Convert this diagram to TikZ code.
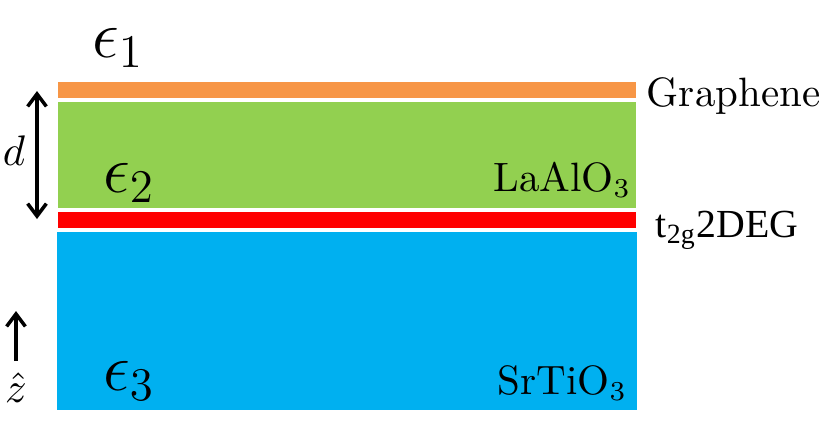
\documentclass[tikz,border=0pt]{standalone}
\usepackage{amsmath}
\usepackage{fontspec}
\newfontfamily\timesfont{Liberation Serif}[Ligatures=TeX]
\usetikzlibrary{arrows.meta, positioning}
\definecolor{lgraphene}{HTML}{F79646}
\definecolor{llao}{HTML}{92D050}
\definecolor{lgas}{HTML}{FF0000}
\definecolor{lsto}{HTML}{00B0F0}
\tikzset{
  epslabel/.style={font=\fontsize{16.5}{20}\selectfont, inner sep=0pt},
  namelabel/.style={font=\fontsize{10.5}{12}\selectfont, inner sep=0pt},
  gaslabel/.style={font=\timesfont\fontsize{10.2}{12}\selectfont, inner sep=0pt},
  axlabel/.style={font=\fontsize{10.5}{12}\selectfont, inner sep=0pt},
  barr/.style={{Straight Barb[length=3.2pt, width=4.8pt]}-{Straight Barb[length=3.2pt, width=4.8pt]}, line width=0.9pt},
  uarr/.style={-{Straight Barb[length=3.2pt, width=4.8pt]}, line width=0.9pt},
}

\begin{document}
\begin{tikzpicture}[x=0.009cm, y=-0.009cm]
  \useasboundingbox (0,0) rectangle (830,421);

  % Layers
  \fill[lgraphene] (58,82) rectangle (636,98);
  \fill[llao] (58,102) rectangle (636,208);
  \fill[lgas] (58,212) rectangle (636,228);
  \fill[lsto] (57,232) rectangle (637,410);

  % Permittivities
  \node[epslabel] (eps1) at (118,48) {$\epsilon_1$};
  \node[epslabel] (eps2) at (129,183) {$\epsilon_2$};
  \node[epslabel] (eps3) at (129,381) {$\epsilon_3$};

  % Materials
  \node[namelabel, anchor=west] (gr) at (646,96) {Graphene};
  \node[namelabel, anchor=east] (lao) at (632,180) {LaAlO$_3$};
  \node[gaslabel, anchor=west] (deg) at (655,230) {t\textsubscript{2g}2DEG};
  \node[namelabel, anchor=east] (sto) at (628,383) {SrTiO$_3$};

  % Thickness
  \coordinate (dtop) at (37,91);
  \coordinate (dbot) at (37,219);
  \draw[barr] (dtop) -- (dbot);
  \node[axlabel] (dlab) at (14,151) {$d$};

  % Growth axis
  \coordinate (zfoot) at (16,361);
  \coordinate (ztip) at (16,311);
  \draw[uarr] (zfoot) -- (ztip);
  \node[axlabel] (zlab) at (16,388) {$\hat{z}$};

\end{tikzpicture}
\end{document}
